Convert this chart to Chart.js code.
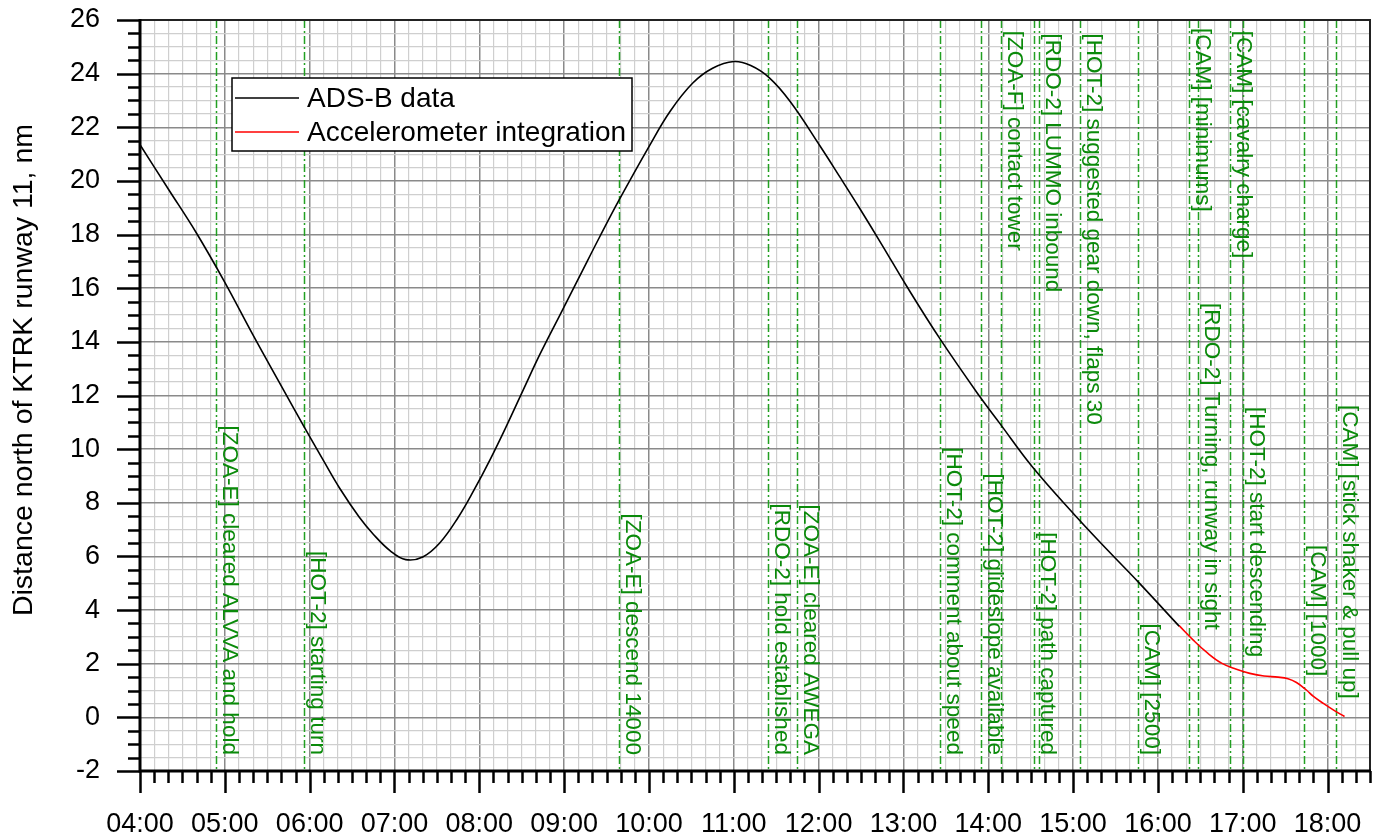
<!DOCTYPE html>
<html>
<head>
<meta charset="utf-8">
<script src="https://cdn.jsdelivr.net/npm/chart.js@4.4.1/dist/chart.umd.min.js"></script>
<style>
  html, body { margin: 0; padding: 0; background: #fff; }
  #wrap { width: 1374px; height: 840px; position: relative; }
</style>
</head>
<body>
<div id="wrap"><canvas id="chart"></canvas></div>
<script>
// times are seconds (mm:ss on the axis), distances in nm
const adsbTime = [240, 260, 280, 300, 320, 340, 356, 370, 381, 395, 405, 417, 428, 440, 452, 465, 476, 488, 499, 511, 523, 537, 551, 565, 579, 600, 615, 631, 645, 660, 672, 685, 700, 721, 735, 749, 765, 782, 806, 834, 848, 871, 900, 925, 946, 975];
const adsbDist = [21.35, 19.7, 18.05, 16.22, 14.25, 12.35, 10.84, 9.55, 8.56, 7.47, 6.83, 6.21, 5.88, 5.98, 6.5, 7.45, 8.45, 9.65, 10.84, 12.2, 13.55, 15.0, 16.45, 17.9, 19.3, 21.28, 22.6, 23.65, 24.2, 24.45, 24.3, 23.85, 22.95, 21.3, 20.15, 18.98, 17.6, 16.1, 14.1, 11.96, 10.97, 9.35, 7.61, 6.2, 5.05, 3.4];

const accelTime = [975, 985, 995, 1005, 1015, 1025, 1035, 1045, 1052, 1058, 1065, 1070, 1077, 1084, 1092];
const accelDist = [3.42, 2.88, 2.4, 2.02, 1.8, 1.64, 1.54, 1.5, 1.44, 1.3, 1.02, 0.78, 0.52, 0.28, 0.03];

const eventTime = [294, 356, 579, 684, 705, 806, 835, 849, 872, 876, 905, 946, 982, 988, 1011, 1020, 1063, 1086];
const eventText = [
  '[ZOA-E] cleared ALVVA and hold',
  '[HOT-2] starting turn',
  '[ZOA-E] descend 14000',
  '[RDO-2] hold established',
  '[ZOA-E] cleared AWEGA',
  '[HOT-2] comment about speed',
  '[HOT-2] glideslope available',
  '[ZOA-F] contact tower',
  '[HOT-2] path captured',
  '[RDO-2] LUMMO inbound',
  '[HOT-2] suggested gear down, flaps 30',
  '[CAM] [2500]',
  '[CAM] [minimums]',
  '[RDO-2] Turning, runway in sight',
  '[CAM] [cavalry charge]',
  '[HOT-2] start descending',
  '[CAM] [1000]',
  '[CAM] [stick shaker & pull up]'
];
// label start along the line (nm); null = label sits at the bottom
const eventLabelTop = [null, null, null, null, null, null, null, 25.6, null, 25.5, 25.5, null, 25.7, 15.45, 25.6, 11.57, 6.43, 11.65];
const LABEL_END = -1.4;

const xTickLabels = ['04:00', '05:00', '06:00', '07:00', '08:00', '09:00', '10:00', '11:00', '12:00', '13:00', '14:00', '15:00', '16:00', '17:00', '18:00'];
const yTickValues = [-2, 0, 2, 4, 6, 8, 10, 12, 14, 16, 18, 20, 22, 24, 26];
const yTitle = 'Distance north of KTRK runway 11, nm';

const X_MIN = 240, X_MAX = 1110, Y_MIN = -2, Y_MAX = 26;
const FONT = '"Liberation Sans", Arial, sans-serif';

const toSec = s => { const [m, ss] = s.split(':').map(Number); return m * 60 + ss; };
const majorX = xTickLabels.map(toSec);
const isMajorX = v => majorX.includes(v);
const isMajorY = v => yTickValues.includes(v);

const pts = (xs, ys) => xs.map((t, i) => ({ x: t, y: ys[i] }));

// event markers: dash-dot lines with rotated captions
const eventsPlugin = {
  id: 'events',
  beforeDatasetsDraw(chart) {
    const { ctx, chartArea: a, scales: { x, y } } = chart;
    ctx.save();
    ctx.beginPath();
    ctx.rect(a.left, a.top, a.right - a.left, a.bottom - a.top);
    ctx.clip();
    ctx.strokeStyle = '#22a022';
    ctx.lineWidth = 1.5;
    ctx.setLineDash([8, 3, 2, 3]);
    eventTime.forEach(t => {
      const px = Math.round(x.getPixelForValue(t)) + 0.5;
      ctx.beginPath();
      ctx.moveTo(px, a.top);
      ctx.lineTo(px, a.bottom);
      ctx.stroke();
    });
    ctx.setLineDash([]);
    ctx.fillStyle = '#0a8a0a';
    ctx.font = '22.5px ' + FONT;
    ctx.textBaseline = 'bottom';
    eventTime.forEach((t, i) => {
      const px = x.getPixelForValue(t);
      const top = eventLabelTop[i];
      ctx.save();
      if (top === null) {
        ctx.translate(px, y.getPixelForValue(LABEL_END));
        ctx.textAlign = 'right';
      } else {
        ctx.translate(px, y.getPixelForValue(top));
        ctx.textAlign = 'left';
      }
      ctx.rotate(Math.PI / 2);
      ctx.fillText(eventText[i], 0, -2);
      ctx.restore();
    });
    ctx.restore();
  }
};

// legend box inside the plot, axis title, frame and tick marks
const framePlugin = {
  id: 'frame',
  afterDraw(chart) {
    const { ctx, chartArea: a, scales: { x, y } } = chart;
    ctx.save();

    // legend
    const lx = 232, ly = 78, lw = 400, lh = 73;
    ctx.fillStyle = '#fff';
    ctx.fillRect(lx, ly, lw, lh);
    ctx.strokeStyle = '#000';
    ctx.lineWidth = 1.5;
    ctx.strokeRect(lx, ly, lw, lh);
    ctx.font = '28px ' + FONT;
    ctx.textBaseline = 'middle';
    ctx.textAlign = 'left';
    chart.data.datasets.forEach((ds, i) => {
      const rowY = ly + 20 + i * 34;
      ctx.strokeStyle = ds.borderColor;
      ctx.lineWidth = 1.5;
      ctx.beginPath();
      ctx.moveTo(lx + 3, rowY);
      ctx.lineTo(lx + 67, rowY);
      ctx.stroke();
      ctx.fillStyle = '#000';
      ctx.fillText(ds.label, lx + 75, rowY + 1);
    });

    // y axis title, a little above the axis middle
    ctx.save();
    ctx.translate(32, 370);
    ctx.rotate(-Math.PI / 2);
    ctx.font = '28.5px ' + FONT;
    ctx.textAlign = 'center';
    ctx.textBaseline = 'alphabetic';
    ctx.fillStyle = '#000';
    ctx.fillText(yTitle, 0, 0);
    ctx.restore();

    // tick marks
    ctx.strokeStyle = '#000';
    ctx.lineWidth = 2.5;
    for (let v = X_MIN; v <= X_MAX; v += 10) {
      const px = Math.round(x.getPixelForValue(v)) + 0.5;
      const len = isMajorX(v) ? 22 : 12;
      ctx.beginPath();
      ctx.moveTo(px, a.bottom);
      ctx.lineTo(px, a.bottom + len);
      ctx.stroke();
    }
    for (let v = Y_MIN; v <= Y_MAX; v += 0.5) {
      const py = Math.round(y.getPixelForValue(v)) + 0.5;
      const len = isMajorY(v) ? 23 : 12;
      ctx.beginPath();
      ctx.moveTo(a.left, py);
      ctx.lineTo(a.left - len, py);
      ctx.stroke();
    }

    // frame
    ctx.lineWidth = 2;
    ctx.strokeStyle = '#222';
    ctx.beginPath();
    ctx.moveTo(a.left, a.top);
    ctx.lineTo(a.right, a.top);
    ctx.lineTo(a.right, a.bottom);
    ctx.stroke();
    ctx.lineWidth = 3;
    ctx.strokeStyle = '#000';
    ctx.beginPath();
    ctx.moveTo(a.left, a.top - 1);
    ctx.lineTo(a.left, a.bottom);
    ctx.lineTo(a.right + 1, a.bottom);
    ctx.stroke();
    ctx.restore();
  }
};

new Chart(document.getElementById('chart'), {
  type: 'line',
  data: {
    datasets: [
      { label: 'ADS-B data', data: pts(adsbTime, adsbDist), borderColor: '#000000', borderWidth: 1.6, pointRadius: 0, tension: 0.4 },
      { label: 'Accelerometer integration', data: pts(accelTime, accelDist), borderColor: '#ff0000', borderWidth: 1.6, pointRadius: 0, tension: 0.4 }
    ]
  },
  options: {
    responsive: true,
    maintainAspectRatio: false,
    animation: false,
    events: [],
    layout: { padding: { top: 20, right: 4, left: 0, bottom: 0 } },
    plugins: { legend: { display: false }, tooltip: { enabled: false } },
    scales: {
      x: {
        type: 'linear',
        min: X_MIN,
        max: X_MAX,
        afterBuildTicks: s => {
          const t = [];
          for (let v = X_MIN; v <= X_MAX; v += 10) t.push({ value: v });
          s.ticks = t;
        },
        afterFit: s => { s.height = 69; s.paddingLeft = 0; s.paddingRight = 0; },
        border: { display: false },
        grid: {
          drawTicks: false,
          color: c => (c.tick && isMajorX(c.tick.value)) ? '#8a8a8a' : '#cfcfcf',
          lineWidth: c => (c.tick && isMajorX(c.tick.value)) ? 1.5 : 1.2
        },
        ticks: {
          autoSkip: false,
          maxRotation: 0,
          minRotation: 0,
          padding: 37,
          color: '#000',
          font: { family: FONT, size: 27 },
          callback: v => {
            const i = majorX.indexOf(v);
            return i >= 0 ? xTickLabels[i] : '';
          }
        }
      },
      y: {
        min: Y_MIN,
        max: Y_MAX,
        afterBuildTicks: s => {
          const t = [];
          for (let v = Y_MIN; v <= Y_MAX; v += 0.5) t.push({ value: v });
          s.ticks = t;
        },
        afterFit: s => { s.width = 140; s.paddingTop = 0; s.paddingBottom = 0; },
        border: { display: false },
        grid: {
          drawTicks: false,
          color: c => (c.tick && isMajorY(c.tick.value)) ? '#8a8a8a' : '#cfcfcf',
          lineWidth: c => (c.tick && isMajorY(c.tick.value)) ? 1.5 : 1.2
        },
        ticks: {
          autoSkip: false,
          padding: 40,
          color: '#000',
          font: { family: FONT, size: 27 },
          callback: v => isMajorY(v) ? String(v) : ''
        }
      }
    }
  },
  plugins: [eventsPlugin, framePlugin]
});
</script>
</body>
</html>
